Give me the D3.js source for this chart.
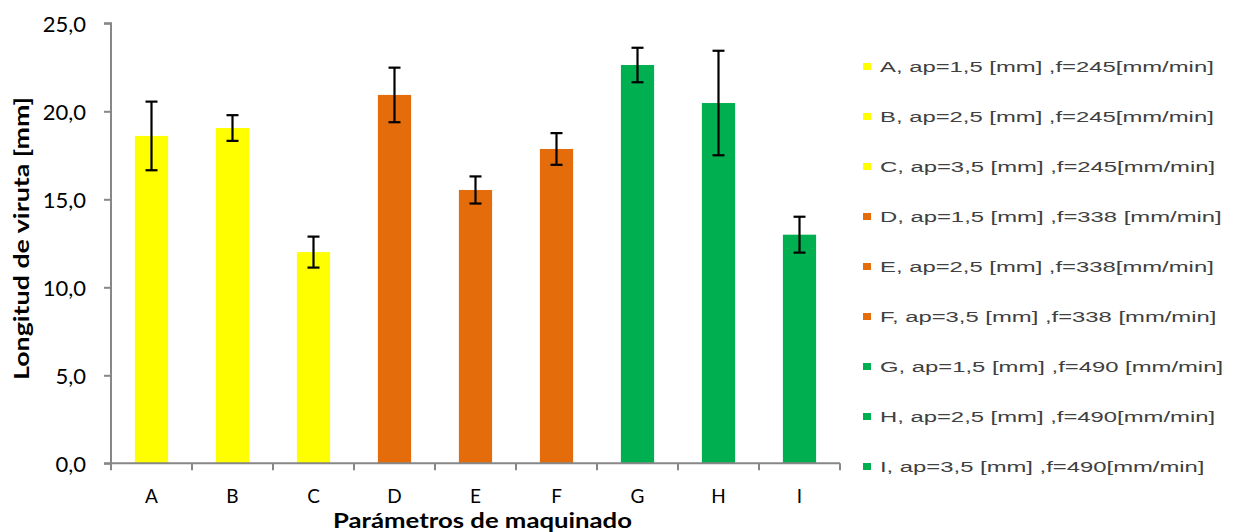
<!DOCTYPE html>
<html><head><meta charset="utf-8">
<script src="https://cdn.jsdelivr.net/npm/d3@7"></script>
<style>html,body{margin:0;padding:0;background:#fff;}svg{display:block;}</style>
</head><body>
<svg id="c" width="1242" height="532"></svg>
<script>
const categories = ["A","B","C","D","E","F","G","H","I"];
const values = [18.6, 19.05, 12.0, 20.93, 15.53, 17.86, 22.63, 20.47, 12.99];
const errors = [1.95, 0.73, 0.88, 1.55, 0.77, 0.9, 0.98, 2.97, 1.02];
const groups = ["245","245","245","338","338","338","490","490","490"];
const legendLabels = [
 "A, ap=1,5 [mm] ,f=245[mm/min]",
 "B, ap=2,5 [mm] ,f=245[mm/min]",
 "C, ap=3,5 [mm] ,f=245[mm/min]",
 "D, ap=1,5 [mm] ,f=338 [mm/min]",
 "E, ap=2,5 [mm] ,f=338[mm/min]",
 "F, ap=3,5 [mm] ,f=338 [mm/min]",
 "G, ap=1,5 [mm] ,f=490 [mm/min]",
 "H, ap=2,5 [mm] ,f=490[mm/min]",
 "I, ap=3,5 [mm] ,f=490[mm/min]"
];
const yTicks = [0,5,10,15,20,25];
const colorMap = {"245":"#FFFF00","338":"#E46C0A","490":"#00B050"};

const svg = d3.select("#c");
const x0 = 111, x1 = 840, yTop = 23.3, yBot = 463.3;
const x = d3.scaleBand().domain(categories).range([x0, x1]).paddingInner(0).paddingOuter(0);
const y = d3.scaleLinear().domain([0,25]).range([yBot, yTop]);
const bw = x.bandwidth()*0.41;
const axisColor = "#878787";
const font = "Lato, 'Open Sans', sans-serif";

// bars
svg.append("g").selectAll("rect").data(categories).join("rect")
  .attr("x", (d)=>x(d)+x.bandwidth()/2-bw/2)
  .attr("y", (d,i)=>y(values[i]))
  .attr("width", bw)
  .attr("height", (d,i)=>y(0)-y(values[i]))
  .attr("fill", (d,i)=>colorMap[groups[i]]);

// error bars
const eg = svg.append("g").attr("stroke","#000").attr("stroke-width",2.2);
categories.forEach((d,i)=>{
  const cx = x(d)+x.bandwidth()/2;
  const t = y(values[i]+errors[i]), b = y(values[i]-errors[i]);
  eg.append("line").attr("x1",cx).attr("x2",cx).attr("y1",t).attr("y2",b);
  eg.append("line").attr("x1",cx-6).attr("x2",cx+6).attr("y1",t).attr("y2",t);
  eg.append("line").attr("x1",cx-6).attr("x2",cx+6).attr("y1",b).attr("y2",b);
});

// y axis
const yAxis = d3.axisLeft(y).tickValues(yTicks).tickSize(7).tickPadding(18)
  .tickFormat(d=>d3.format(".1f")(d).replace(".",","));
const ya = svg.append("g").attr("transform",`translate(${x0},0)`).call(yAxis);
ya.select(".domain").attr("stroke",axisColor).attr("stroke-width",2).attr("d",`M-7,${yTop}H0V${yBot}`);
ya.selectAll(".tick line").attr("stroke",axisColor).attr("stroke-width",2);
ya.selectAll(".tick text").attr("fill","#000").style("font-family",font).style("font-size","22px").attr("dy","0.36em");

// x axis
const xa = svg.append("g").attr("transform",`translate(0,${yBot})`);
xa.append("line").attr("x1",x0-7).attr("x2",x1).attr("y1",0).attr("y2",0).attr("stroke",axisColor).attr("stroke-width",2);
const bounds = categories.map(d=>x(d)).concat([x1]);
xa.selectAll("line.tk").data(bounds).join("line").attr("class","tk")
  .attr("x1",d=>d).attr("x2",d=>d).attr("y1",0).attr("y2",7).attr("stroke",axisColor).attr("stroke-width",2);
xa.selectAll("text").data(categories).join("text")
  .attr("x",d=>x(d)+x.bandwidth()/2).attr("y",40)
  .attr("text-anchor","middle").attr("fill","#000")
  .style("font-family",font).style("font-size","19px").text(d=>d);

// titles
svg.append("text").attr("x",482.5).attr("y",528).attr("text-anchor","middle")
  .attr("textLength",299).attr("lengthAdjust","spacingAndGlyphs")
  .style("font-family",font).style("font-size","20px").style("font-weight","bold")
  .text("Parámetros de maquinado");
svg.append("text").attr("transform","translate(29,238.5) rotate(-90)").attr("text-anchor","middle")
  .attr("textLength",283).attr("lengthAdjust","spacingAndGlyphs")
  .style("font-family",font).style("font-size","21px").style("font-weight","bold")
  .text("Longitud de viruta [mm]");

// legend
const lg = svg.append("g");
const ly = d3.scaleLinear().domain([0,8]).range([66.5,466.5]);
legendLabels.forEach((t,i)=>{
  lg.append("rect").attr("x",863).attr("y",ly(i)-3.5).attr("width",8).attr("height",7).attr("fill",colorMap[groups[i]]);
  lg.append("text").attr("transform",`translate(880,${ly(i)}) scale(1.59,1)`).attr("dy","0.36em")
    .attr("fill","#404040").style("font-family","'Liberation Sans', Arial, sans-serif").style("font-size","15px").text(t);
});
</script>
</body></html>
